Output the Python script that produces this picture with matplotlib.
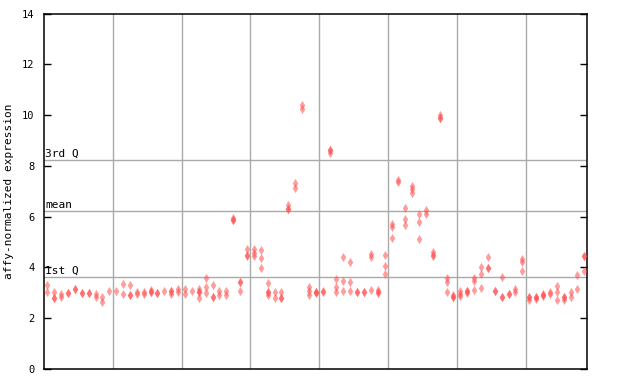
import matplotlib
matplotlib.use("Agg")
import matplotlib.pyplot as plt
import numpy as np

# replicate values per sample (None = no replicate)
rep1 = [3.31, 3.02, 2.95, 2.98, 3.14, 3.01, 2.98, 2.97, 2.84, 3.06,
        3.06, 3.35, 3.30, 3.05, 3.05, 3.12, 3.01, 3.06, 3.08, 3.14,
        3.17, 3.06, 3.14, 3.57, 3.31, 3.09, 3.08, 5.95, 3.44, 4.72,
        4.72, 4.69, 3.38, 3.02, 3.02, 6.45, 7.32, 10.40, 3.24, 3.05,
        3.07, 8.63, 3.53, 4.40, 4.20, 3.05, 3.05, 4.55, 3.12, 4.48,
        5.70, 7.45, 6.33, 7.21, 6.10, 6.27, 4.62, 10.00, 3.57, 2.90,
        3.06, 3.09, 3.57, 4.00, 4.40, 3.09, 3.61, 2.97, 3.15, 4.32,
        2.85, 2.85, 2.95, 3.05, 3.26, 2.85, 3.02, 3.69, 4.47]
rep2 = [3.05, 2.81, 2.85, 2.98, 3.14, 3.01, 2.98, 2.84, 2.65, None,
        None, 2.96, 2.93, 2.95, 2.97, 3.03, 3.01, None, 3.08, 3.03,
        2.97, None, 3.03, 3.22, 2.85, 2.90, 2.92, 5.87, 3.44, 4.50,
        4.58, 4.36, 3.03, 2.79, 2.81, 6.32, 7.12, 10.25, 3.07, 3.05,
        3.02, 8.63, 3.22, 3.46, 3.42, 3.05, 3.05, 4.42, 3.05, 4.06,
        5.60, 7.35, 5.90, 7.08, 5.78, 6.10, 4.50, 9.90, 3.42, 2.85,
        2.94, 3.09, 3.47, 3.73, 3.99, 3.09, 2.85, 2.97, 3.05, 4.23,
        2.85, 2.85, 2.92, 2.95, 3.02, 2.85, 2.85, 3.14, 4.47]
rep3 = [None, 2.81, None, None, None, None, None, None, None, None,
        None, None, 2.93, None, None, 3.05, None, None, 2.97, None,
        None, None, 3.03, 3.01, 2.85, None, None, 5.87, 3.07, 4.45,
        4.46, 3.97, 3.03, None, 2.81, 6.32, None, None, 2.92, 2.98,
        None, 8.53, 3.02, 3.06, 3.06, None, None, 3.12, 3.00, 3.74,
        5.16, None, 5.66, 6.95, 5.11, None, 4.45, 9.90, 3.02, 2.85,
        2.88, 3.00, 3.11, 3.18, 3.99, None, 2.85, None, None, 3.85,
        2.72, 2.75, 2.88, None, 2.71, 2.71, None, None, 3.85]
rep4 = [None] * 22 + [2.79] + [None] * 9 + [2.93] + [None] * 46

quartile_lines = {"3rd Q": 8.22, "mean": 6.23, "1st Q": 3.62}
group_size = 10
yticks = [0, 2, 4, 6, 8, 10, 12, 14]

fig = plt.figure(figsize=(6.4, 3.84), dpi=100)
ax = fig.add_axes([44.3 / 640, 1 - 369 / 384, (586.7 - 44.3) / 640, (369 - 13.7) / 384])

n = len(rep1)
grid_c = "#aaaaaa"
for g in np.arange(group_size - 0.5, n, group_size):
    ax.axvline(g, color=grid_c, lw=1.0, zorder=1)
for lab, v in quartile_lines.items():
    ax.axhline(v, color=grid_c, lw=1.0, zorder=1)
    ax.text(-0.35, v + 0.05, lab, fontsize=8, family="DejaVu Sans Mono",
            ha="left", va="bottom", zorder=2)

red = "#ff4d4d"
for rep in (rep1, rep2, rep3, rep4):
    xs = [i for i, v in enumerate(rep) if v is not None]
    ys = [v for v in rep if v is not None]
    ax.scatter(xs, ys, marker="d", s=22, color=red, alpha=0.55,
               linewidths=0, zorder=3)

ax.set_xlim(-0.44, n - 0.65)
ax.set_ylim(0, 14)
ax.set_yticks(yticks)
ax.set_yticklabels([str(t) for t in yticks], family="DejaVu Sans Mono", fontsize=7.5)
ax.set_xticks([])
ax.tick_params(axis="y", direction="in", length=5, width=1, right=True, pad=7)
for s in ax.spines.values():
    s.set_color("black")
    s.set_linewidth(1.1)
ax.set_ylabel("affy-normalized expression", family="DejaVu Sans Mono", fontsize=8, labelpad=6)

fig.savefig("out.png", dpi=100)
